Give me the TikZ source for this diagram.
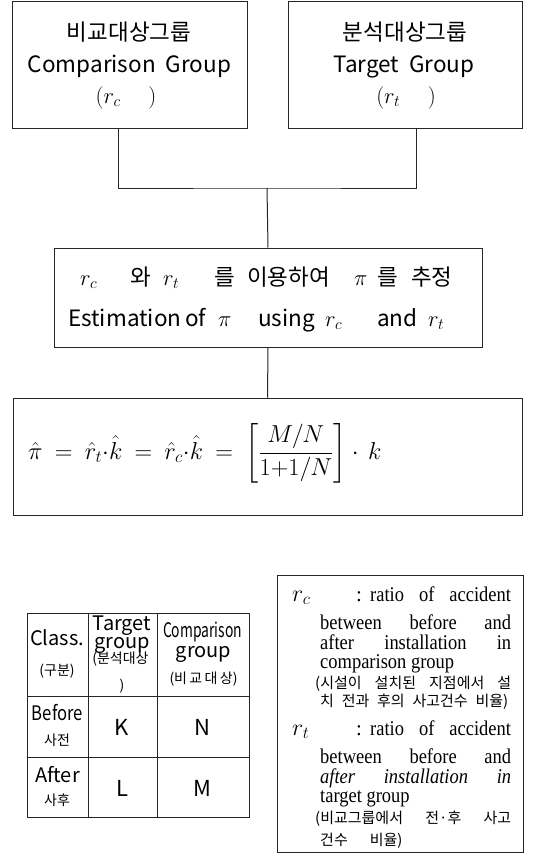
\RequirePackage{fix-cm}
\documentclass[tikz,border=0pt]{standalone}
\usepackage{amsmath}
\usepackage{graphicx}
\usepackage[no-math]{fontspec}
\setmainfont{Noto Sans CJK KR}
\newfontfamily\enserif{Liberation Serif}
\newcommand{\hs}[1]{\hspace{#1pt}}
\newcommand{\tw}[2]{\makebox[#1pt][l]{#2}}
\newcommand{\jline}[2]{\scalebox{0.88}[1]{\makebox[#1pt][s]{#2}}}
\begin{document}
\begin{tikzpicture}[x=1pt,y=-1pt,
  box/.style={draw=black!85,line width=1pt,inner sep=0pt},
  ln/.style={draw=black!85,line width=1pt},
  tb/.style={font=\fontsize{22.5}{26}\selectfont,inner sep=0pt,anchor=base},
  tbw/.style={font=\fontsize{22.5}{26}\selectfont,inner sep=0pt,anchor=base west},
  cell/.style={font=\fontsize{20}{24}\selectfont,inner sep=0pt,anchor=base},
  cellk/.style={font=\fontsize{14}{16}\selectfont,inner sep=0pt,anchor=base},
  val/.style={font=\fontsize{22}{26}\selectfont,inner sep=0pt,anchor=center},
  en/.style={font=\enserif\fontsize{21}{22}\selectfont,inner sep=0pt,anchor=base west},
  ko/.style={font=\fontsize{15}{17}\selectfont,inner sep=0pt,anchor=base west},
  sym/.style={font=\fontsize{24}{28}\selectfont,inner sep=0pt,anchor=base west}
]
\useasboundingbox (0,0) rectangle (536,854);
\fill[white] (0,0) rectangle (536,854);

% top boxes
\node[box,minimum width=235pt,minimum height=127pt] (b1) at (129.5,64.5) {};
\node[box,minimum width=234pt,minimum height=127pt] (b2) at (405,64.5) {};
\node[tb] (b1a) at (129,40) {비교대상그룹};
\node[tb] (b1b) at (129.5,72) {Comparison\ \ Group};
\node[tb] (b1c) at (126,103) {$(r_c\quad\ )$};
\node[tb] (b2a) at (405,40) {분석대상그룹};
\node[tb] (b2b) at (404,72) {Target\ \ Group};
\node[tb] (b2c) at (406,103) {$(r_t\quad\ )$};

% estimation box
\node[box,minimum width=428pt,minimum height=99pt] (est) at (268,297.5) {};
\node[tbw] (esta) at (80,285) {\tw{50}{$r_c$}\tw{33}{와}\tw{51}{$r_t$}\tw{33}{를}\tw{107}{이용하여}\tw{23}{$\pi$}\tw{34}{를}추정};
\node[tbw] (estb) at (68,326) {\tw{117}{Estimation}\tw{33}{of}\tw{40}{$\pi$}\tw{67}{using}\tw{52}{$r_c$}\tw{51}{and}$r_t$};

% formula box
\node[box,minimum width=509pt,minimum height=117pt] (form) at (267.5,456.5) {};
\node[inner sep=0pt,anchor=west,font=\fontsize{24.5}{28}\selectfont] (fml) at (28,453)
  {\thickmuskip=9mu$\displaystyle \hat{\pi}=\hat{r}_t{\cdot}\hat{k}=\hat{r}_c{\cdot}\hat{k}=\left[\frac{M/N}{1{+}1/N}\right]\cdot\, k$};

% connectors
\coordinate (j) at (267,188);
\draw[ln] ([xshift=-11.5pt]b1.south) |- (j) -| ([xshift=11pt]b2.south);
\draw[ln] (j) -- (est.north);
\draw[ln] (est.south) -- (form.north);

% table
\draw[ln] (27,613) rectangle (249,817);
\draw[ln] (88,613) -- (88,817);
\draw[ln] (157,613) -- (157,817);
\draw[ln] (27,696) -- (249,696);
\draw[ln] (27,757) -- (249,757);
\node[cell] (c11) at (57,645) {Class.};
\node[cellk] (c11k) at (57,675) {(구분)};
\node[cell] (c12) at (122,630) {Target};
\node[cell] (c12b) at (122,648) {group};
\node[cellk] (c12k) at (120.5,663) {(분석대상};
\node[cellk] (c12p) at (122,690) {)};
\node[cell] (c13) at (202.5,637) {\resizebox{79pt}{\height}{Comparison}};
\node[cell] (c13b) at (203.5,657) {group};
\node[cellk] (c13k) at (203.5,683) {(비\,교\,대\,상)};
\node[cell] (c21) at (57.5,720) {\resizebox{51pt}{\height}{Before}};
\node[cellk] (c21k) at (57,745) {사전};
\node[cell] (c31) at (57.5,782) {After};
\node[cellk] (c31k) at (57,805) {사후};
\node[val] (k) at (122,727) {K};
\node[val] (n) at (202,727) {N};
\node[val] (l) at (122,788) {L};
\node[val] (m) at (202,788) {M};

% legend box
\node[box,minimum width=246pt,minimum height=277pt] (leg) at (400,713.5) {};
\node[sym] (rc) at (292,601) {$r_c$};
\node[en] (rc0) at (356,601) {:};
\node[en] (rc1) at (370,601) {\jline{160}{ratio of accident}};
\node[en] (rc2) at (320,629) {\jline{217}{between before and}};
\node[en] (rc3) at (320,649) {\jline{217}{after installation in}};
\node[en] (rc4) at (320,668) {\scalebox{0.88}[1]{comparison group}};
\node[ko] (rc5) at (315,688) {\makebox[196pt][s]{(시설이 설치된 지점에서 설}};
\node[ko] (rc6) at (320,706) {\makebox[188pt][s]{치 전과 후의 사고건수 비율)}};
\node[sym] (rt) at (292,735) {$r_t$};
\node[en] (rt0) at (356,735) {:};
\node[en] (rt1) at (370,735) {\jline{160}{ratio of accident}};
\node[en] (rt2) at (320,763) {\jline{217}{between before and}};
\node[en] (rt3) at (320,783) {\jline{217}{\itshape after installation in}};
\node[en] (rt4) at (320,802) {\scalebox{0.88}[1]{target group}};
\node[ko] (rt5) at (315,823) {\makebox[196pt][s]{(비교그룹에서 전·후 사고}};
\node[ko] (rt6) at (320,845) {건수\hs{22}비율)};
\end{tikzpicture}
\end{document}
